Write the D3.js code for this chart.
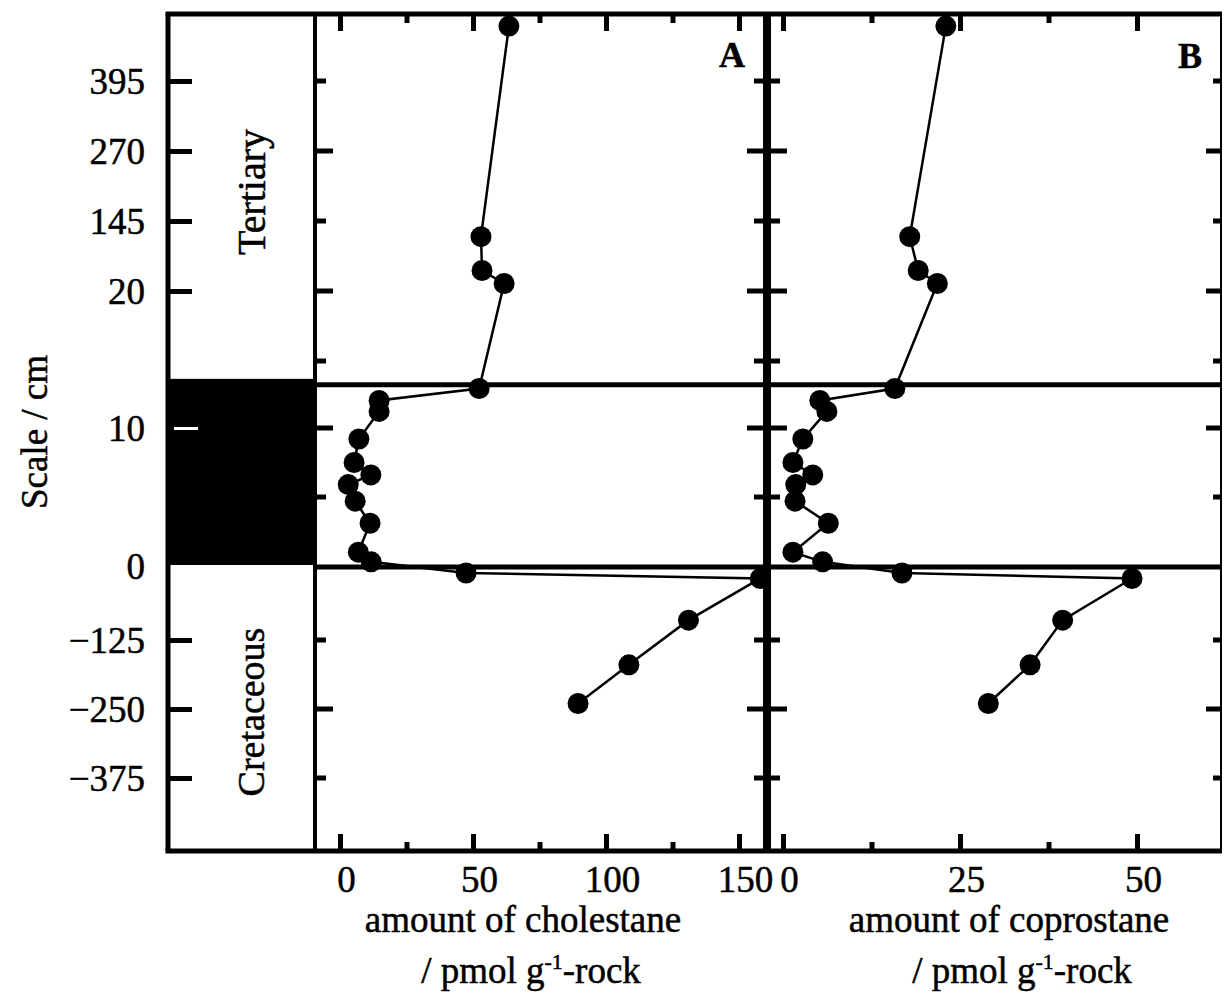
<!DOCTYPE html>
<html>
<head>
<meta charset="utf-8">
<script src="https://cdn.jsdelivr.net/npm/d3@7/dist/d3.min.js"></script>
<style>
  html, body { margin: 0; padding: 0; background: #fff; }
  svg text { font-family: "Liberation Serif", "Times New Roman", serif; fill: #000; stroke: #000; stroke-width: 0.5px; }
</style>
</head>
<body>
<svg id="chart" width="1224" height="999"></svg>
<script>
// ---------------- DATA ----------------
// zone of each sample: T = Tertiary (cm scale above boundary), C = boundary clay (cm), K = Cretaceous (cm)
const sampleZone  = ["T","T","T","T","C","C","C","C","C","C","C","C","C","C","C","K","K","K","K","K"];
const sampleDepth = [493, 117, 56.6, 33.4, 12.86, 12.0, 11.2, 9.2, 7.5, 6.6, 5.9, 4.7, 3.1, 1.0, 0.3, -3.6, -13.5, -89, -170, -240];
const cholestane  = [63.5, 53, 53.4, 61.7, 52.3, 14.7, 14.7, 7.1, 5.3, 11.6, 3.1, 5.7, 11.3, 6.9, 11.7, 47.4, 158, 131, 108.6, 89.5];
const coprostane  = [23.0, 17.9, 19.1, 21.8, 15.8, 5.2, 6.2, 2.8, 1.4, 4.2, 1.8, 1.7, 6.4, 1.4, 5.6, 16.8, 49.3, 39.5, 34.9, 29.0];

const tertiaryTicks = [395, 270, 145, 20];
const tertiaryAllTicks = [395, 270, 145, 20, -105];
const clayTicks = [10, 0];
const clayAllTicks = [10, 5];
const clayTop = 13.2;
const cretaceousTicks = [-125, -250, -375];
const cholTicks = [0, 50, 100, 150];
const cholMinorTicks = [25, 75, 125];
const coproTicks = [0, 25, 50];
const coproMinorTicks = [12.5, 37.5];
const zoneLabels = ["Tertiary", "Cretaceous"];
const panelLabels = ["A", "B"];

// ---------------- LAYOUT ----------------
const svg = d3.select("#chart");
const L = 168, colR = 315, sep = 767, R = 1221, T = 14, B = 851;
const FS = 37;

const yT = d3.scaleLinear().domain([20, 395]).range([291, 81]);
const yC = d3.scaleLinear().domain([0, 10]).range([566, 428]);
const yK = d3.scaleLinear().domain([-125, -250]).range([640, 709]);
const yOf = (zone, d) => zone === "T" ? yT(d) : zone === "C" ? yC(d) : yK(d);

const xA = d3.scaleLinear().domain([0, 150]).range([340, 739]);
const xB = d3.scaleLinear().domain([0, 50]).range([783, 1137]);

// black boundary-clay block in the column
svg.append("rect")
  .attr("x", L).attr("y", yC(clayTop) - 5)
  .attr("width", colR - L).attr("height", yC(0) - yC(clayTop) + 4)
  .attr("fill", "#000");

// clay boundary lines across panels
[clayTop, 0].forEach(v => {
  svg.append("line").attr("x1", colR).attr("x2", R)
    .attr("y1", yC(v) + 1).attr("y2", yC(v) + 1)
    .attr("stroke", "#000").attr("stroke-width", 5);
});

// ---------- Y axis with labels (left frame) ----------
function yAxisLeft(scale, ticks) {
  const g = svg.append("g").attr("transform", `translate(${L},0)`)
    .call(d3.axisLeft(scale).tickValues(ticks).tickSize(-24).tickPadding(23).tickFormat(d3.format("d")));
  g.select(".domain").remove();
  g.selectAll(".tick line").attr("stroke", "#000").attr("stroke-width", 5);
  g.selectAll(".tick text").attr("font-size", FS).attr("dy", "0.34em");
  return g;
}
yAxisLeft(yT, tertiaryTicks);
const gc = yAxisLeft(yC, clayTicks);
gc.selectAll(".tick line").attr("stroke", "#fff").attr("stroke-width", 3)
  .attr("x1", 6).attr("x2", 30).filter(d => d === 0).remove();
yAxisLeft(yK, cretaceousTicks);

// ---------- ticks on internal vertical lines ----------
const alt = { T: {395: 0, 270: 1, 145: 0, 20: 1, "-105": 0}, C: {10: 1, 5: 0}, K: {"-125": 0, "-250": 1, "-375": 0} };
const tickRows = [];
tertiaryAllTicks.forEach(v => tickRows.push({ y: yT(v), major: alt.T[v] }));
clayAllTicks.forEach(v => tickRows.push({ y: yC(v), major: alt.C[v] }));
cretaceousTicks.forEach(v => tickRows.push({ y: yK(v), major: alt.K[v] }));

svg.append("g").selectAll("line").data(tickRows).join("line")
  .attr("x1", colR).attr("x2", d => colR + (d.major ? 18 : 11))
  .attr("y1", d => d.y).attr("y2", d => d.y)
  .attr("stroke", "#000").attr("stroke-width", 5);
svg.append("g").selectAll("line").data(tickRows).join("line")
  .attr("x1", d => sep - (d.major ? 20 : 13)).attr("x2", d => sep + (d.major ? 20 : 13))
  .attr("y1", d => d.y).attr("y2", d => d.y)
  .attr("stroke", "#000").attr("stroke-width", 5);
svg.append("g").selectAll("line").data(tickRows).join("line")
  .attr("x1", d => R - (d.major ? 15 : 8)).attr("x2", R)
  .attr("y1", d => d.y).attr("y2", d => d.y)
  .attr("stroke", "#000").attr("stroke-width", 5);

// ---------- X axes ----------
function xAxes(scale, major, minor) {
  const gb = svg.append("g").attr("transform", `translate(0,${B})`)
    .call(d3.axisBottom(scale).tickValues(major).tickSize(-17).tickPadding(15).tickFormat(d3.format("d")));
  gb.select(".domain").remove();
  gb.selectAll(".tick line").attr("stroke-width", 5);
  gb.selectAll(".tick text").attr("font-size", FS).attr("dx", 6);
  const gbm = svg.append("g").attr("transform", `translate(0,${B})`)
    .call(d3.axisBottom(scale).tickValues(minor).tickSize(-9).tickFormat(""));
  gbm.select(".domain").remove();
  gbm.selectAll(".tick line").attr("stroke-width", 5);
  const gt = svg.append("g").attr("transform", `translate(0,${T})`)
    .call(d3.axisTop(scale).tickValues(major).tickSize(-17).tickFormat(""));
  gt.select(".domain").remove();
  gt.selectAll(".tick line").attr("stroke-width", 5);
  const gtm = svg.append("g").attr("transform", `translate(0,${T})`)
    .call(d3.axisTop(scale).tickValues(minor).tickSize(-9).tickFormat(""));
  gtm.select(".domain").remove();
  gtm.selectAll(".tick line").attr("stroke-width", 5);
}
xAxes(xA, cholTicks, cholMinorTicks);
xAxes(xB, coproTicks, coproMinorTicks);

// ---------- frame ----------
const frame = svg.append("g").attr("stroke", "#000").attr("fill", "none");
frame.append("line").attr("x1", L - 2.5).attr("x2", R + 1).attr("y1", T).attr("y2", T).attr("stroke-width", 5);
frame.append("line").attr("x1", L - 2.5).attr("x2", R + 1).attr("y1", B).attr("y2", B).attr("stroke-width", 5);
frame.append("line").attr("x1", L).attr("x2", L).attr("y1", T).attr("y2", B).attr("stroke-width", 5);
frame.append("line").attr("x1", colR).attr("x2", colR).attr("y1", T).attr("y2", B).attr("stroke-width", 4);
frame.append("line").attr("x1", sep).attr("x2", sep).attr("y1", T).attr("y2", B).attr("stroke-width", 8);
frame.append("line").attr("x1", R).attr("x2", R).attr("y1", T).attr("y2", B).attr("stroke-width", 2);

// ---------- data series ----------
const idx = d3.range(sampleDepth.length);
function series(scale, values) {
  const line = d3.line().x(i => scale(values[i])).y(i => yOf(sampleZone[i], sampleDepth[i]));
  svg.append("path").datum(idx).attr("d", line)
    .attr("fill", "none").attr("stroke", "#000").attr("stroke-width", 2.5);
  svg.append("g").selectAll("circle").data(idx).join("circle")
    .attr("cx", i => scale(values[i])).attr("cy", i => yOf(sampleZone[i], sampleDepth[i]))
    .attr("r", 10.5).attr("fill", "#000");
}
series(xA, cholestane);
series(xB, coprostane);

// ---------- labels ----------
svg.append("text").attr("transform", "translate(47,432) rotate(-90)")
  .attr("text-anchor", "middle").attr("font-size", FS).text("Scale / cm");
svg.append("text").attr("transform", "translate(265,192) rotate(-90)")
  .attr("text-anchor", "middle").attr("font-size", 40).text(zoneLabels[0]);
svg.append("text").attr("transform", `translate(264,${(yK(-125) + yK(-375)) / 2 + 3}) rotate(-90)`)
  .attr("text-anchor", "middle").attr("font-size", 38).text(zoneLabels[1]);

svg.append("text").attr("x", 732).attr("y", 67).attr("text-anchor", "middle")
  .attr("font-size", 36).attr("font-weight", "bold").text(panelLabels[0]);
svg.append("text").attr("x", 1190).attr("y", 68).attr("text-anchor", "middle")
  .attr("font-size", 36).attr("font-weight", "bold").text(panelLabels[1]);

function xTitle(cx, cx2, name) {
  svg.append("text").attr("x", cx).attr("y", 932).attr("text-anchor", "middle")
    .attr("font-size", FS).text("amount of " + name);
  const t = svg.append("text").attr("x", cx2).attr("y", 983).attr("text-anchor", "middle")
    .attr("font-size", FS);
  t.append("tspan").text("/ pmol g");
  t.append("tspan").attr("font-size", 22).attr("dy", -14).text("-1");
  t.append("tspan").attr("dy", 14).text("-rock");
}
xTitle(523, 531, "cholestane");
xTitle(1009, 1022, "coprostane");
</script>
</body>
</html>
